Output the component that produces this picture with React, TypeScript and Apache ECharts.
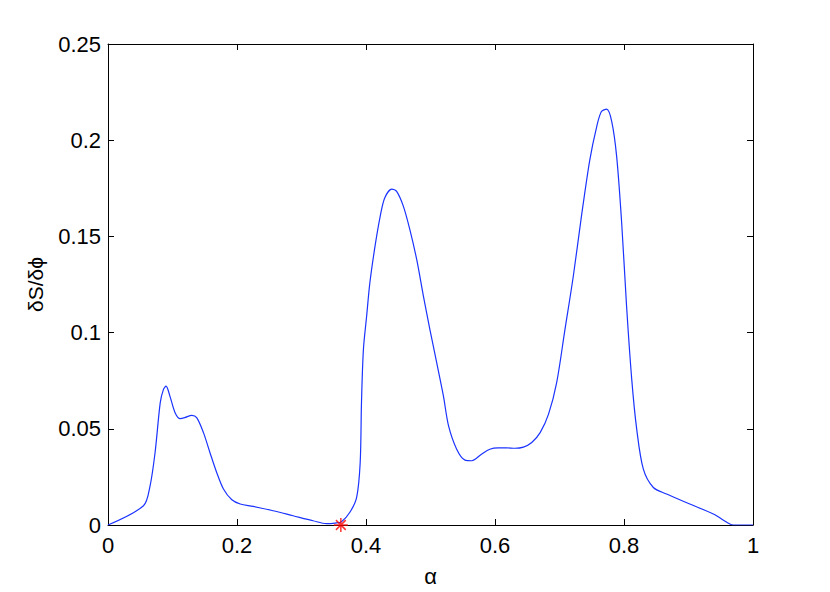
import React, { useEffect, useRef } from "react";
import * as echarts from "echarts";

const alpha = [
  0, 0.055, 0.065, 0.073, 0.081, 0.086, 0.09, 0.096, 0.104, 0.112, 0.119, 0.13, 0.1375,
  0.148, 0.158, 0.1685, 0.179, 0.192, 0.205, 0.225, 0.256, 0.287, 0.318, 0.339, 0.352,
  0.362, 0.375, 0.3855, 0.391, 0.393, 0.396, 0.401, 0.406, 0.414, 0.422, 0.429, 0.44,
  0.4475, 0.458, 0.468, 0.4786, 0.489, 0.499, 0.5096, 0.52, 0.528, 0.5406, 0.5535, 0.564,
  0.579, 0.592, 0.605, 0.618, 0.631, 0.644, 0.657, 0.67, 0.683, 0.6956, 0.7085, 0.7214,
  0.734, 0.747, 0.7577, 0.765, 0.773, 0.781, 0.7886, 0.7964, 0.804, 0.812, 0.8197, 0.83,
  0.8455, 0.866, 0.902, 0.9385, 0.964, 0.97, 1.0,
];

const dSdphi = [
  0, 0.01, 0.02, 0.0377, 0.0636, 0.0705, 0.0722, 0.067, 0.0584, 0.0553, 0.0558, 0.057, 0.0558,
  0.048, 0.0377, 0.0273, 0.0187, 0.0131, 0.0109, 0.0097, 0.0074, 0.0048, 0.0022, 0.0007, 0.001,
  0.0017, 0.0066, 0.0144, 0.0325, 0.0636, 0.0913, 0.1086, 0.1259, 0.1449, 0.1604, 0.17, 0.1746,
  0.1734, 0.1656, 0.1535, 0.138, 0.119, 0.1017, 0.0844, 0.0671, 0.0515, 0.0394, 0.0337, 0.0334,
  0.0368, 0.0394, 0.0401, 0.0401, 0.0399, 0.0405, 0.0429, 0.048, 0.0576, 0.074, 0.1017, 0.1293,
  0.1604, 0.1898, 0.2071, 0.2149, 0.2161, 0.2097, 0.1916, 0.157, 0.1137, 0.0757, 0.0498, 0.029,
  0.0195, 0.0161, 0.0109, 0.0057, 0.0005, 0, 0,
];

const markerAlpha = [0.361];
const markerValue = [0];

const FONT = "Liberation Sans";

export default function App() {
  const ref = useRef<HTMLDivElement>(null);
  useEffect(() => {
    if (!ref.current) return;
    const chart = echarts.init(ref.current, undefined, { renderer: "svg" });
    const lineData = alpha.map((a, i) => [a, dSdphi[i]]);
    const markData = markerAlpha.map((a, i) => [a, markerValue[i]]);
    const axisCommon = {
      axisLine: { show: true, onZero: false, lineStyle: { color: "#000", width: 1 } },
      axisTick: { show: true, inside: true, length: 6, lineStyle: { color: "#000", width: 1 } },
      splitLine: { show: false },
    };
    chart.setOption({
      animation: false,
      backgroundColor: "#fff",
      grid: { left: 108, right: 77, top: 44, bottom: 66, containLabel: false },
      xAxis: [
        {
          type: "value",
          min: 0,
          max: 1,
          interval: 0.2,
          position: "bottom",
          name: "α",
          nameLocation: "middle",
          nameGap: 40,
          nameTextStyle: { fontFamily: FONT, fontSize: 22, color: "#000" },
          axisLabel: { fontFamily: FONT, fontSize: 22, color: "#000", margin: 9 },
          ...axisCommon,
        },
        {
          type: "value",
          min: 0,
          max: 1,
          interval: 0.2,
          position: "top",
          axisLabel: { show: false },
          ...axisCommon,
        },
      ],
      yAxis: [
        {
          type: "value",
          min: 0,
          max: 0.25,
          interval: 0.05,
          position: "left",
          name: "δS/δϕ",
          nameLocation: "middle",
          nameGap: 62,
          nameRotate: 90,
          nameTextStyle: { fontFamily: FONT, fontSize: 21, color: "#000" },
          axisLabel: { fontFamily: FONT, fontSize: 22, color: "#000", margin: 7 },
          ...axisCommon,
        },
        {
          type: "value",
          min: 0,
          max: 0.25,
          interval: 0.05,
          position: "right",
          axisLabel: { show: false },
          ...axisCommon,
        },
      ],
      series: [
        {
          type: "line",
          data: lineData,
          xAxisIndex: 0,
          yAxisIndex: 0,
          showSymbol: false,
          smooth: 0.3,
          lineStyle: { color: "#1a33ff", width: 1.2 },
          z: 2,
        },
        {
          type: "scatter",
          data: markData,
          xAxisIndex: 0,
          yAxisIndex: 0,
          symbol: "path://M10 0 L10 20 M0 10 L20 10 M3 3 L17 17 M3 17 L17 3",
          symbolSize: 14,
          itemStyle: { color: "none", borderColor: "#ff0000", borderWidth: 1.5 },
          z: 3,
        },
      ],
    });
    return () => chart.dispose();
  }, []);
  return (
    <div
      ref={ref}
      style={{ position: "fixed", left: 0, top: 0, width: 830, height: 592, background: "#fff" }}
    />
  );
}
